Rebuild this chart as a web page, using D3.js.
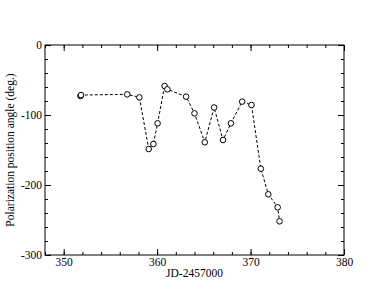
<!DOCTYPE html>
<html><head><meta charset="utf-8">
<script src="https://cdn.jsdelivr.net/npm/d3@7"></script>
<style>body{margin:0;background:#fff}svg{display:block}</style>
</head><body>
<script>
const jd = [351.8, 351.85, 356.8, 358.1, 359.1, 359.6, 360.05, 360.8, 361.1, 363.1, 364.0, 365.1, 366.1, 367.05, 367.9, 369.1, 370.1, 371.1, 371.9, 372.9, 373.1];
const angle = [-73, -71.5, -70.5, -74.8, -148.6, -141.4, -111.9, -58.6, -63.3, -73.8, -97.6, -139, -89.3, -135.7, -111.9, -80.9, -85.7, -176.7, -213.3, -231.9, -251.9];
const xTicks = [350, 360, 370, 380];
const yTicks = [0, -100, -200, -300];

const W = 388, H = 300;
const m = {l: 45, r: 44, t: 45, b: 45};
const svg = d3.select("body").append("svg").attr("width", W).attr("height", H);
const x = d3.scaleLinear().domain([348, 380]).range([m.l, W - m.r]);
const y = d3.scaleLinear().domain([-300, 0]).range([H - m.b, m.t]);
const font = "Liberation Serif, Times New Roman, serif";
const fmt = d => String(d);

const g = svg.append("g");
function styleAxis(sel, lbl) {
  sel.attr("font-family", font).attr("font-size", 11.5);
  sel.select(".domain").remove();
  sel.selectAll("line").attr("stroke", "#000");
  sel.selectAll("text").attr("fill", "#000");
  if (!lbl) sel.selectAll("text").remove();
}
const minorX = d3.range(348, 381, 2), minorY = d3.range(-300, 1, 20);
// bottom
g.append("g").attr("transform", `translate(0,${H - m.b})`)
  .call(d3.axisBottom(x).tickValues(minorX).tickSize(-3).tickFormat("")).call(s => styleAxis(s, false));
g.append("g").attr("transform", `translate(0,${H - m.b})`)
  .call(d3.axisBottom(x).tickValues(xTicks).tickSize(-6).tickPadding(3).tickFormat(fmt)).call(s => styleAxis(s, true));
// top
g.append("g").attr("transform", `translate(0,${m.t})`)
  .call(d3.axisTop(x).tickValues(minorX).tickSize(-3).tickFormat("")).call(s => styleAxis(s, false));
g.append("g").attr("transform", `translate(0,${m.t})`)
  .call(d3.axisTop(x).tickValues(xTicks).tickSize(-6).tickFormat("")).call(s => styleAxis(s, false));
// left
g.append("g").attr("transform", `translate(${m.l},0)`)
  .call(d3.axisLeft(y).tickValues(minorY).tickSize(-3).tickFormat("")).call(s => styleAxis(s, false));
g.append("g").attr("transform", `translate(${m.l},0)`)
  .call(d3.axisLeft(y).tickValues(yTicks).tickSize(-6).tickPadding(3).tickFormat(fmt)).call(s => styleAxis(s, true));
// right
g.append("g").attr("transform", `translate(${W - m.r},0)`)
  .call(d3.axisRight(y).tickValues(minorY).tickSize(-3).tickFormat("")).call(s => styleAxis(s, false));
g.append("g").attr("transform", `translate(${W - m.r},0)`)
  .call(d3.axisRight(y).tickValues(yTicks).tickSize(-6).tickFormat("")).call(s => styleAxis(s, false));

svg.append("rect").attr("x", m.l).attr("y", m.t).attr("width", W - m.l - m.r).attr("height", H - m.t - m.b)
  .attr("fill", "none").attr("stroke", "#000").attr("stroke-width", 1);

const pts = jd.map((d, i) => [d, angle[i]]);
svg.append("path").datum(pts)
  .attr("d", d3.line().x(d => x(d[0])).y(d => y(d[1])))
  .attr("fill", "none").attr("stroke", "#000").attr("stroke-width", 1).attr("stroke-dasharray", "3,2");
svg.selectAll("circle.pt").data(pts).join("circle").attr("class", "pt")
  .attr("cx", d => x(d[0])).attr("cy", d => y(d[1])).attr("r", 2.8)
  .attr("fill", "#fff").attr("stroke", "#000").attr("stroke-width", 1);

svg.append("text").attr("x", (m.l + W - m.r) / 2).attr("y", 277).attr("text-anchor", "middle")
  .attr("font-family", font).attr("font-size", 11.5).text("JD-2457000");
svg.append("text").attr("transform", `translate(14,${(m.t + H - m.b) / 2}) rotate(-90)`).attr("text-anchor", "middle")
  .attr("font-family", font).attr("font-size", 11.5).text("Polarization position angle (deg.)");
</script>
</body></html>
